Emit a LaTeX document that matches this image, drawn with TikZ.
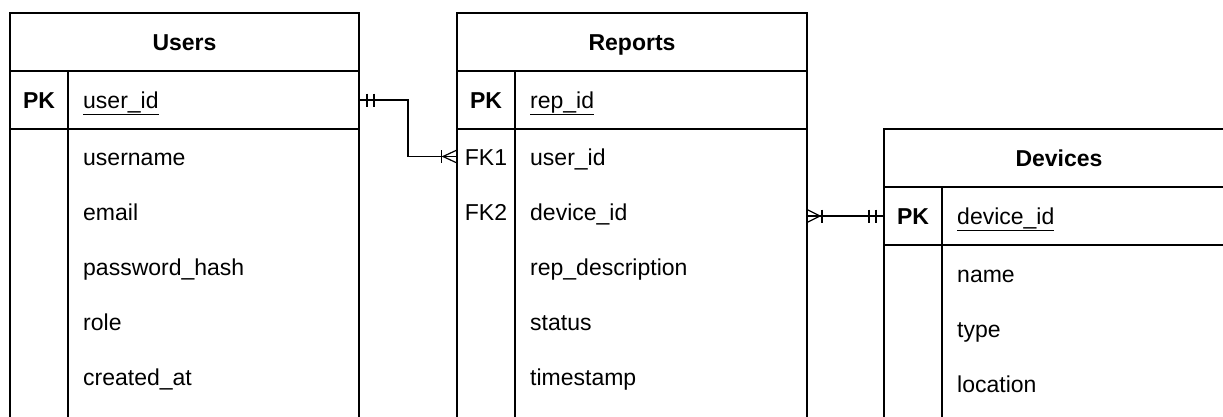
\documentclass[tikz,border=0pt]{standalone}
\usepackage{fontspec}
\setmainfont{Liberation Sans}
\usetikzlibrary{positioning,calc}

\tikzset{
    tbl/.style={line width=1.4pt, line cap=rect},
    link/.style={line width=1.2pt},
    hdr/.style={draw, line width=1.4pt, anchor=north west, inner sep=0pt, outer sep=0pt,
        minimum width=#1, minimum height=58, font=\fontsize{23}{27}\selectfont\bfseries,
        text height=20pt, text depth=3pt},
    pkrow/.style={draw, line width=1.4pt, inner sep=0pt, outer sep=0pt,
        minimum width=#1, minimum height=58},
    rowbox/.style={anchor=north west, inner sep=0pt, outer sep=0pt,
        minimum width=#1, minimum height=55},
    keytxt/.style={inner sep=0pt, font=\fontsize{23}{27}\selectfont,
        text height=20pt, text depth=3pt},
    fld/.style={anchor=west, inner sep=0pt, font=\fontsize{23}{27}\selectfont,
        text height=20pt, text depth=3pt}
}

\begin{document}
\begin{tikzpicture}[x=1pt, y=-1pt]
    \useasboundingbox (0,0) rectangle (1223,416);
    \clip (0,0) rectangle (1223,416);

    % Users
    \node[hdr=349] (users) at (10,13) {Users};
    \node[pkrow=349, below=0pt of users] (userspk) {};
    \node[keytxt, font=\fontsize{23}{27}\selectfont\bfseries] (userskey) at ($(userspk.west)+(29,0)$) {PK};
    \node[fld] (usersid) at ($(userspk.west)+(73,0)$) {\underline{user\_id}};
    \foreach \f [count=\i] in {username, email, password\_hash, role, created\_at} {
        \node[rowbox=349] (users\i) at ({10},{74+55*\i}) {};
        \node[fld] (usersf\i) at ($(users\i.west)+(73,0)$) {\f};
    }
    \draw[tbl] (userspk.south west) -- ++(0,300);
    \draw[tbl] (userspk.south east) -- ++(0,300);
    \draw[tbl] ($(userspk.north west)+(58,0)$) -- ++(0,360);

    % Reports
    \node[hdr=350] (reports) at (457,13) {Reports};
    \node[pkrow=350, below=0pt of reports] (reppk) {};
    \node[keytxt, font=\fontsize{23}{27}\selectfont\bfseries] (repkey) at ($(reppk.west)+(29,0)$) {PK};
    \node[fld] (repid) at ($(reppk.west)+(73,0)$) {\underline{rep\_id}};
    \foreach \f [count=\i] in {user\_id, device\_id, rep\_description, status, timestamp} {
        \node[rowbox=350] (rep\i) at ({457},{74+55*\i}) {};
        \node[fld] (repf\i) at ($(rep\i.west)+(73,0)$) {\f};
    }
    \node[keytxt] (repk1) at ($(rep1.west)+(29,0)$) {FK1};
    \node[keytxt] (repk2) at ($(rep2.west)+(29,0)$) {FK2};
    \draw[tbl] (reppk.south west) -- ++(0,300);
    \draw[tbl] (reppk.south east) -- ++(0,300);
    \draw[tbl] ($(reppk.north west)+(58,0)$) -- ++(0,360);

    % Devices
    \node[hdr=350] (devices) at (884,129) {Devices};
    \node[pkrow=350, below=0pt of devices] (devpk) {};
    \node[keytxt, font=\fontsize{23}{27}\selectfont\bfseries] (devkey) at ($(devpk.west)+(29,0)$) {PK};
    \node[fld] (devid) at ($(devpk.west)+(73,0)$) {\underline{device\_id}};
    \foreach \f [count=\i] in {name, type, location} {
        \node[rowbox=350] (dev\i) at ({884},{191+55*\i}) {};
        \node[fld] (devf\i) at ($(dev\i.west)+(73,0)$) {\f};
    }
    \draw[tbl] (devpk.south west) -- ++(0,300);
    \draw[tbl] ($(devpk.north west)+(58,0)$) -- ++(0,300);

    % Users -> Reports (one to many)
    \draw[link] (userspk.east) -- ++(49,0) |- (rep1.west);
    \draw[link] ($(userspk.east)+(8,-6.5)$) -- ++(0,13);
    \draw[link] ($(userspk.east)+(15,-6.5)$) -- ++(0,13);
    \draw[link] ($(rep1.west)+(0,-6.5)$) -- ($(rep1.west)+(-14,0)$) -- ($(rep1.west)+(0,6.5)$);
    \draw[link] ($(rep1.west)+(-15.5,-6.5)$) -- ++(0,13);

    % Reports -> Devices (many to one)
    \coordinate (repout) at (rep2.east |- devpk.west);
    \draw[link] (repout) -- (devpk.west);
    \draw[link] ($(repout)+(0,-6.5)$) -- ($(repout)+(13,0)$) -- ($(repout)+(0,6.5)$);
    \draw[link] ($(repout)+(15,-6.5)$) -- ++(0,13);
    \draw[link] ($(devpk.west)+(-8,-6.5)$) -- ++(0,13);
    \draw[link] ($(devpk.west)+(-15,-6.5)$) -- ++(0,13);
\end{tikzpicture}
\end{document}
